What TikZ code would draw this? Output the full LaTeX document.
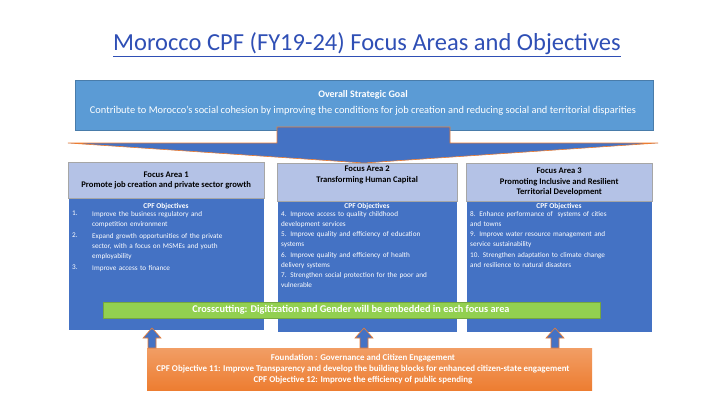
\documentclass[tikz,border=0pt]{standalone}
\usepackage{fontspec}
\setmainfont{Carlito}
\begin{document}
\begin{tikzpicture}[x=1pt,y=-1pt,
 hdr/.style={draw=gray!70,fill=hdrc,text=black,font=\fontsize{8.6}{10.5}\selectfont\bfseries,align=center,inner sep=1pt},
 bodyb/.style={fill=bluec,draw=white,anchor=north west},
 btxt/.style={text=white,font=\fontsize{7.2}{10.2}\selectfont,align=left,anchor=north west,inner sep=0pt},
 uparr/.style={fill=bluec,draw=orangec,line width=0.6pt}]
\definecolor{bluec}{HTML}{4472C4}
\definecolor{goalc}{HTML}{5B9BD5}
\definecolor{hdrc}{HTML}{B4C2E6}
\definecolor{orangec}{HTML}{ED7D31}
\definecolor{greenc}{HTML}{92D050}
\definecolor{titlec}{HTML}{2F4FB5}
\useasboundingbox (0,0) rectangle (720,405);
\node[text=titlec,font=\fontsize{24.5}{30}\selectfont] (title) at (367,45) {\underline{Morocco CPF (FY19-24) Focus Areas and Objectives}};
% goal
\node[fill=goalc,draw=goalc!80!black,minimum width=578pt,minimum height=50pt,anchor=north west,inner sep=0] (goal) at (75,80) {};
\node[text=white,font=\fontsize{10}{12}\selectfont\bfseries] (goalt) at (363,95) {Overall Strategic Goal};
\node[text=white,font=\fontsize{10.4}{12}\selectfont] (goald) at (363,111) {Contribute to Morocco's social cohesion by improving the conditions for job creation and reducing social and territorial disparities};
% big arrow
\draw[fill=bluec,draw=orangec,line width=0.6pt] (277,127) -- (450,127) -- (450,143) -- (658,143) -- (364,163) -- (68,143) -- (277,143) -- cycle;
% bodies
\node[bodyb,minimum width=196pt,minimum height=132pt,inner sep=0] (b1) at (68,198) {};
\node[bodyb,minimum width=180pt,minimum height=132pt,inner sep=0] (b2) at (277,200) {};
\node[bodyb,minimum width=186pt,minimum height=132pt,inner sep=0] (b3) at (466,200) {};
\node[hdr,minimum width=196pt,minimum height=36pt,anchor=north west] (h1) at (68,162) {Focus Area 1\\Promote job creation and private sector growth};
\node[hdr,minimum width=180pt,minimum height=38pt,anchor=north west] (h2) at (277,163) {Focus Area 2\\Transforming Human Capital\\[6pt]};
\node[hdr,minimum width=186pt,minimum height=38pt,anchor=north west] (h3) at (466,163) {Focus Area 3\\Promoting Inclusive and Resilient\\Territorial Development};
\node[text=white,font=\fontsize{7.4}{8}\selectfont\bfseries] (c1) at (166,207) {CPF Objectives};
\node[text=white,font=\fontsize{7.4}{8}\selectfont\bfseries] (c2) at (367,207) {CPF Objectives};
\node[text=white,font=\fontsize{7.4}{8}\selectfont\bfseries] (c3) at (559,207) {CPF Objectives};
\node[btxt] (t1a) at (72,211) {1.};
\node[btxt,text width=165pt] (t1b) at (92,211) {Improve the business regulatory and\\competition environment};
\node[btxt] (t2a) at (72,233) {2.};
\node[btxt,text width=165pt] (t2b) at (92,233) {Expand growth opportunities of the private\\sector, with a focus on MSMEs and youth\\employability};
\node[btxt] (t3a) at (72,265) {3.};
\node[btxt,text width=165pt] (t3b) at (92,265) {Improve access to finance};
\node[btxt,text width=178pt] (t4) at (281,211) {4. Improve access to quality childhood\\development services\\5. Improve quality and efficiency of education\\systems\\6. Improve quality and efficiency of health\\delivery systems\\7. Strengthen social protection for the poor and\\vulnerable};
\node[btxt,text width=182pt] (t8) at (470,211) {8. Enhance performance of\ \ systems of cities\\and towns\\9. Improve water resource management and\\service sustainability\\10. Strengthen adaptation to climate change\\and resilience to natural disasters};
% crosscutting
\node[fill=greenc,draw=greenc!80!black,minimum width=497pt,minimum height=16pt,anchor=north west,inner sep=0] (cross) at (103,302) {};
\node[text=white,font=\fontsize{10.3}{12}\selectfont\bfseries] (crosst) at (351,310) {Crosscutting: Digitization and Gender will be embedded in each focus area};
% foundation
\node[fill=orangec,top color=orangec!75!white,bottom color=orangec,draw=none,minimum width=445pt,minimum height=42pt,anchor=north west,inner sep=0] (found) at (147,348) {};
\node[text=white,font=\fontsize{8.9}{11}\selectfont\bfseries,align=center] (foundt) at (363,369) {Foundation : Governance and Citizen Engagement\\CPF Objective 11: Improve Transparency and develop the building blocks for enhanced citizen-state engagement\\CPF Objective 12: Improve the efficiency of public spending};
% small up arrows
\foreach \xx/\nm in {152/ua,364/ub,555/uc}{
 \draw[uparr] (\xx-4,348) -- (\xx-4,338) -- (\xx-9,338) -- (\xx,328) -- (\xx+9,338) -- (\xx+4,338) -- (\xx+4,348) -- cycle;
}
\end{tikzpicture}
\end{document}
